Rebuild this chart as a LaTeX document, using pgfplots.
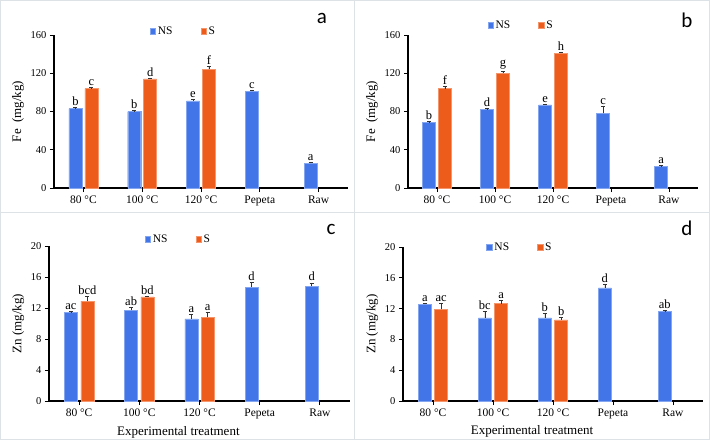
\documentclass[border=0pt]{standalone}
\usepackage{pgfplots}
\pgfplotsset{compat=1.18}
\usepackage{pgfplotstable}
\usepackage{fontspec}
\setmainfont{Liberation Serif}
\newfontfamily\panelfont{Carlito}

\definecolor{nsblue}{RGB}{66,118,232}
\definecolor{sorange}{RGB}{238,92,28}
\definecolor{framegray}{RGB}{220,226,230}

% Fe, panel a
\pgfplotstableread{
x y err lab
0 83 1.5 b
1 80 1.5 b
2 91 1.5 e
3 101 1 c
4 26 1 a
}\aNS
\pgfplotstableread{
x y err lab
0 104 1 c
1 114 1 d
2 124 3 f
}\aS
% Fe, panel b
\pgfplotstableread{
x y err lab
0 68.5 1 b
1 82 1 d
2 87 1 e
3 78 7 c
4 23 0.5 a
}\bNS
\pgfplotstableread{
x y err lab
0 104 2 f
1 120 2 g
2 141 1 h
}\bS
% Zn, panel c
\pgfplotstableread{
x y err lab
0 11.4 0.15 ac
1 11.7 0.4 ab
2 10.6 0.6 a
3 14.7 0.6 d
4 14.8 0.45 d
}\cNS
\pgfplotstableread{
x y err lab
0 12.9 0.6 bcd
1 13.45 0.1 bd
2 10.8 0.7 a
}\cS
% Zn, panel d
\pgfplotstableread{
x y err lab
0 12.55 0.15 a
1 10.8 0.8 bc
2 10.8 0.6 b
3 14.7 0.5 d
4 11.6 0.2 ab
}\dNS
\pgfplotstableread{
x y err lab
0 11.9 0.8 ac
1 12.65 0.45 a
2 10.55 0.3 b
}\dS

% offset of the two bars from the category centre, in x units
\def\off{0.136}

\pgfplotsset{
  panel/.style={
    scale only axis, clip=false,
    axis x line*=bottom, axis y line*=left,
    xmin=-0.5, xmax=4.5, ymin=0,
    xtick={0,...,4}, xticklabels={80 °C,100 °C,120 °C,Pepeta,Raw},
    tick align=outside, major tick length=4pt,
    x tick label style={font=\fontsize{11.5}{12}\selectfont},
    y tick label style={font=\fontsize{10.5}{12}\selectfont},
    /pgf/number format/assume math mode=true,
    axis line style={line width=1.1pt},
    tick style={line width=0.8pt, black},
    ylabel style={font=\fontsize{13}{14}\selectfont},
    xlabel style={font=\fontsize{13}{14}\selectfont, at={(axis description cs:0.43,-0.2)}, anchor=center},
    legend style={draw=none, fill=none, font=\fontsize{11.5}{12}\selectfont,
      legend columns=2, anchor=center,
      /tikz/every even column/.append style={column sep=26pt}},
  },
  barcommon/.style={ybar, bar width=13pt, bar shift=0pt, line width=0.4pt,
    legend image code/.code={\fill[##1] (0pt,-2.8pt) rectangle (5.6pt,2.8pt);},
    error bars/y dir=plus, error bars/y explicit,
    error bars/error bar style={black!80, line width=0.6pt},
    error bars/error mark options={rotate=90, mark size=2pt, black!80, line width=0.6pt}},
  nsbar/.style={barcommon, fill=nsblue, draw=nsblue!65!white},
  sbar/.style={barcommon, fill=sorange, draw=sorange!65!white},
  lab/.style={draw=none, forget plot, nodes near coords, point meta=explicit symbolic,
    nodes near coords style={anchor=south, inner sep=1.5pt,
      font=\fontsize{12.5}{13}\selectfont}},
}

\begin{document}
\begin{tikzpicture}
\useasboundingbox (0pt,0pt) rectangle (710pt,440pt);
\draw[framegray, line width=0.8pt] (0.5pt,0.5pt) rectangle (709.5pt,439.5pt);
\draw[framegray, line width=0.8pt] (354pt,0pt) -- (354pt,440pt);
\draw[framegray, line width=0.8pt] (0pt,228pt) -- (710pt,228pt);

% panel a
\begin{axis}[panel, at={(54pt,252pt)}, anchor=south west, width=294pt, height=153pt,
  ymax=160, ytick={0,40,...,160}, ylabel={Fe\ \ (mg/kg)},
  legend style={at={(0.44,1.025)}}]
  \addplot[nsbar] table[x expr=\thisrow{x}-\off, y=y, y error=err] {\aNS};
  \addplot[sbar] table[x expr=\thisrow{x}+\off, y=y, y error=err] {\aS};
  \legend{NS, S}
  \addplot[lab] table[x expr=\thisrow{x}-\off, y expr=\thisrow{y}+\thisrow{err}, meta=lab] {\aNS};
  \addplot[lab] table[x expr=\thisrow{x}+\off, y expr=\thisrow{y}+\thisrow{err}, meta=lab] {\aS};
\end{axis}

% panel b
\begin{axis}[panel, at={(408pt,252pt)}, anchor=south west, width=290pt, height=153pt,
  ymax=160, ytick={0,40,...,160}, ylabel={Fe\ \ (mg/kg)},
  legend style={at={(0.39,1.065)}}]
  \addplot[nsbar] table[x expr=\thisrow{x}-\off, y=y, y error=err] {\bNS};
  \addplot[sbar] table[x expr=\thisrow{x}+\off, y=y, y error=err] {\bS};
  \legend{NS, S}
  \addplot[lab] table[x expr=\thisrow{x}-\off, y expr=\thisrow{y}+\thisrow{err}, meta=lab] {\bNS};
  \addplot[lab] table[x expr=\thisrow{x}+\off, y expr=\thisrow{y}+\thisrow{err}, meta=lab] {\bS};
\end{axis}

% panel c
\begin{axis}[panel, at={(49pt,39pt)}, anchor=south west, width=301pt, height=155pt,
  ymax=20, ytick={0,4,...,20}, ylabel={Zn (mg/kg)}, xlabel={Experimental treatment},
  legend style={at={(0.43,1.045)}}]
  \addplot[nsbar] table[x expr=\thisrow{x}-\off, y=y, y error=err] {\cNS};
  \addplot[sbar] table[x expr=\thisrow{x}+\off, y=y, y error=err] {\cS};
  \legend{NS, S}
  \addplot[lab] table[x expr=\thisrow{x}-\off, y expr=\thisrow{y}+\thisrow{err}, meta=lab] {\cNS};
  \addplot[lab] table[x expr=\thisrow{x}+\off, y expr=\thisrow{y}+\thisrow{err}, meta=lab] {\cS};
\end{axis}

% panel d
\begin{axis}[panel, at={(403pt,39pt)}, anchor=south west, width=300pt, height=154pt,
  ymax=20, ytick={0,4,...,20}, ylabel={Zn (mg/kg)}, xlabel={Experimental treatment},
  legend style={at={(0.39,1.0)}}]
  \addplot[nsbar] table[x expr=\thisrow{x}-\off, y=y, y error=err] {\dNS};
  \addplot[sbar] table[x expr=\thisrow{x}+\off, y=y, y error=err] {\dS};
  \legend{NS, S}
  \addplot[lab] table[x expr=\thisrow{x}-\off, y expr=\thisrow{y}+\thisrow{err}, meta=lab] {\dNS};
  \addplot[lab] table[x expr=\thisrow{x}+\off, y expr=\thisrow{y}+\thisrow{err}, meta=lab] {\dS};
\end{axis}

\node[font=\panelfont\fontsize{21}{21}\selectfont] at (322pt,422pt) {a};
\node[font=\panelfont\fontsize{21}{21}\selectfont] at (687pt,420pt) {b};
\node[font=\panelfont\fontsize{21}{21}\selectfont] at (331pt,211pt) {c};
\node[font=\panelfont\fontsize{21}{21}\selectfont] at (687pt,212pt) {d};
\end{tikzpicture}
\end{document}
